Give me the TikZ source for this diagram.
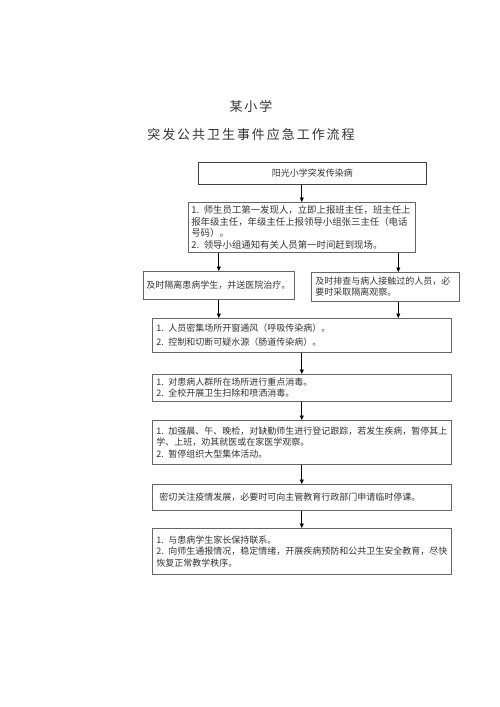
\documentclass[tikz,border=0pt]{standalone}
\usepackage{fontspec}
\setmainfont{Noto Sans CJK SC}
\usetikzlibrary{arrows.meta}

\begin{document}
\begin{tikzpicture}[
    x = 1pt, y = -1pt,
    every node/.style = {text = black!80},
    heading/.style = {
        font = \fontsize{13}{15}\selectfont\addfontfeature{LetterSpace=15}
    },
    box/.style = {
        draw = black!60, line width = 0.6pt,
        anchor = north west, align = left,
        inner xsep = 4pt, inner ysep = 0pt,
        font = \fontsize{9}{11.5}\selectfont
    },
    arrow/.style = {-{Triangle[length=4.5pt, width=4pt]}, line width = 0.7pt}
]
\useasboundingbox (0,0) rectangle (500,707);

\node[heading] (school) at (251,107) {某小学};
\node[heading] (title) at (251,135) {突发公共卫生事件应急工作流程};

\node[box, draw = black!75, align = center, text width = 220pt, minimum height = 22pt]
    (start) at (198,162) {阳光小学突发传染病};
\node[box, font = \fontsize{9.4}{11.5}\selectfont, inner xsep = 3pt,
      text width = 221pt, minimum height = 50pt]
    (report) at (188,202)
    {1. 师生员工第一发现人，立即上报班主任，班主任上\\
     报年级主任，年级主任上报领导小组张三主任（电话\\
     号码）。\\
     2. 领导小组通知有关人员第一时间赶到现场。};
\node[box, inner xsep = 3pt, text width = 145pt, minimum height = 28pt]
    (isolate) at (143,271) {及时隔离患病学生，并送医院治疗。};
\node[box, text width = 140pt, minimum height = 29pt] (check) at (311,272)
    {及时排查与病人接触过的人员，必\\要时采取隔离观察。};
\node[box, text width = 291pt, minimum height = 34pt] (air) at (152,318)
    {1. 人员密集场所开窗通风（呼吸传染病）。\\[2pt]
     2. 控制和切断可疑水源（肠道传染病）。};
\node[box, text width = 291pt, minimum height = 27pt] (clean) at (152,374)
    {1. 对患病人群所在场所进行重点消毒。\\
     2. 全校开展卫生扫除和喷洒消毒。};
\node[box, text width = 291pt, minimum height = 44pt] (watch) at (152,420)
    {1. 加强晨、午、晚检，对缺勤师生进行登记跟踪，若发生疾病，暂停其上\\
     学、上班，劝其就医或在家医学观察。\\
     2. 暂停组织大型集体活动。};
\node[box, text width = 291pt, minimum height = 26pt] (suspend) at (152,484)
    {\ 密切关注疫情发展，必要时可向主管教育行政部门申请临时停课。};
\node[box, text width = 291pt, minimum height = 46pt] (recover) at (152,528)
    {1. 与患病学生家长保持联系。\\
     2. 向师生通报情况，稳定情绪，开展疾病预防和公共卫生安全教育，尽快\\
     恢复正常教学秩序。};

% right branch runs a little right of the box centre
\coordinate (checkx) at ([xshift = 13pt]check.north);

\draw[arrow] (start.south -| report.north) -- (report.north);
\draw[arrow] (report.south -| isolate.north) -- (isolate.north);
\draw[arrow] (report.south -| checkx) -- (checkx);
\draw[arrow] (isolate.south) -- (isolate.south |- air.north);
\draw[arrow] (check.south -| checkx) -- (air.north -| checkx);
\draw[arrow] (air.south) -- (clean.north);
\draw[arrow] (clean.south) -- (watch.north);
\draw[arrow] (watch.south) -- (suspend.north);
\draw[arrow] (suspend.south) -- (recover.north);

\end{tikzpicture}
\end{document}
